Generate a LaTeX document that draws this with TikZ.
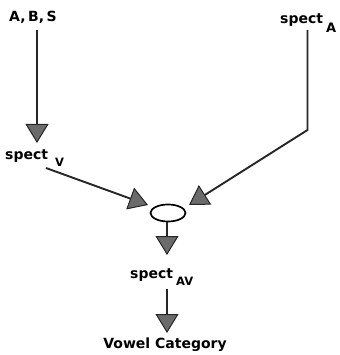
\documentclass[tikz,border=0pt]{standalone}
\usepackage{fontspec}
\setmainfont{DejaVu Sans}
\usetikzlibrary{arrows.meta,shapes.geometric}
\begin{document}
\begin{tikzpicture}[x=1pt,y=-1pt,
  txt/.style={font=\bfseries\fontsize{14}{16}\selectfont, inner sep=0pt},
  lbl/.style={txt, anchor=base west},
  sub/.style={font=\bfseries\fontsize{11.5}{12}\selectfont, inner sep=0pt, anchor=base west},
  link/.style={line width=1.9pt, draw=black!85,
    -{Triangle[length=19pt,width=23pt,fill=black!58,line width=1pt]}},
  junction/.style={draw=black, line width=1.7pt, ellipse, minimum width=35pt,
    minimum height=17pt, inner sep=0pt}]
\useasboundingbox (0,0) rectangle (339,355);

% labels
\node[txt, anchor=base] (abs) at (33,22) {A,\hspace{0.18em}B,\hspace{0.18em}S};
\node[lbl] (specV) at (5,160) {spect};
\node[sub] (specVsub) at (55,167) {V};
\node[lbl] (specA) at (280,24) {spect};
\node[sub, font=\bfseries\fontsize{13}{14}\selectfont] (specAsub) at (326,33) {A};
\node[lbl] (specAV) at (130,278) {spect};
\node[sub] (specAVsub) at (176,285) {AV};
\node[txt, anchor=base] (vowel) at (165,348) {Vowel Category};

% combination node
\node[junction] (circ) at (168,213) {};

% connector end points
\coordinate (absStart) at (37,30);
\coordinate (absTip) at (37,143);
\coordinate (vStart) at (46,168);
\coordinate (vTip) at (148,205);
\coordinate (aStart) at (307.5,30);
\coordinate (aBend) at (307.5,130);
\coordinate (aTip) at (189,205);
\coordinate (avTip) at (167,255);
\coordinate (avStart) at (167,289);
\coordinate (vowelTip) at (167,333);

% connectors
\draw[link] (absStart) -- (absTip);
\draw[link] (vStart) -- (vTip);
\draw[link] (aStart) -- (aBend) -- (aTip);
\draw[link] (circ.south -| avTip) -- (avTip);
\draw[link] (avStart) -- (vowelTip);
\end{tikzpicture}
\end{document}
